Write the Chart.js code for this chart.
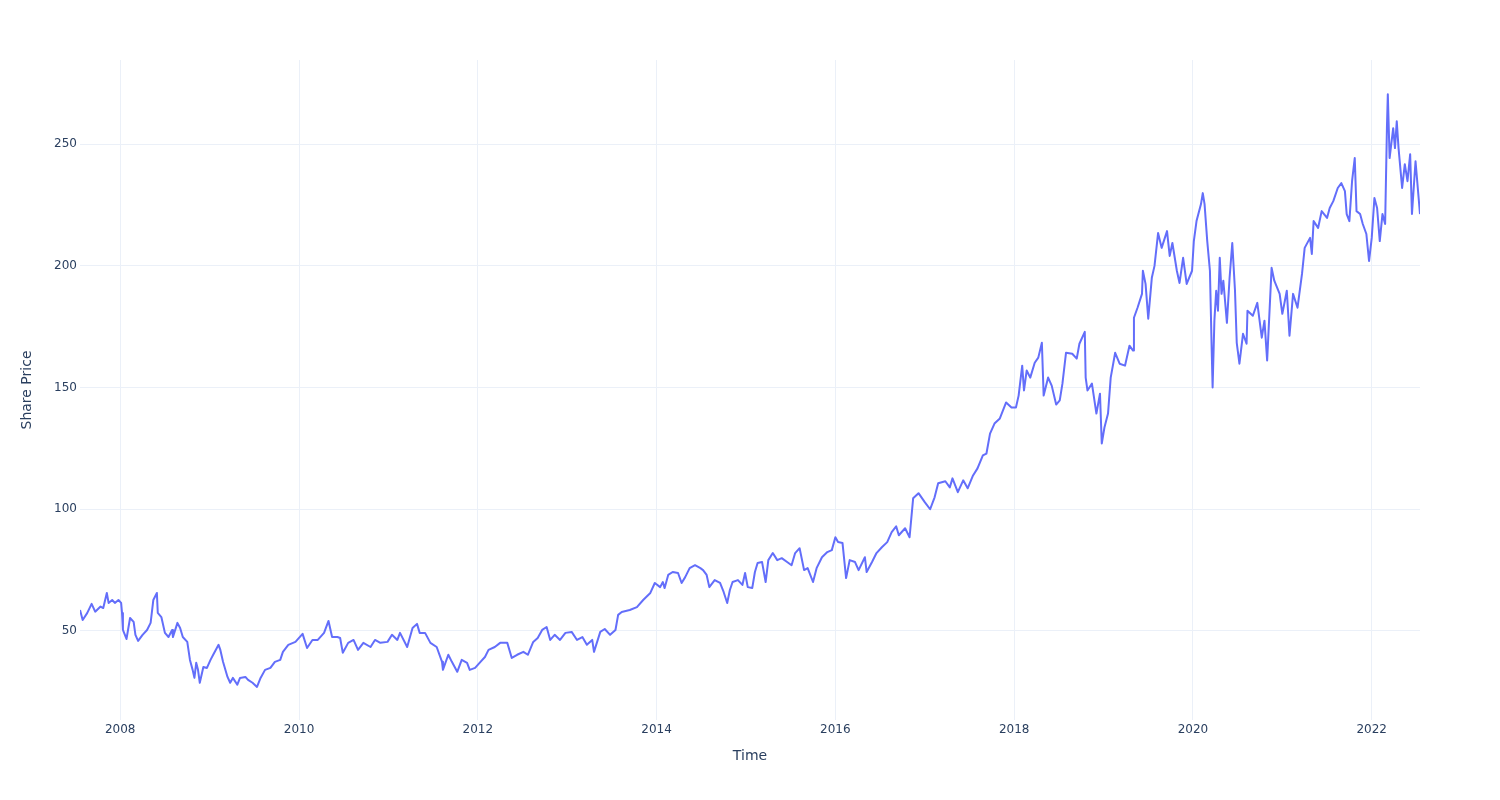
<!DOCTYPE html>
<html lang="en">
<head>
<meta charset="utf-8">
<title>Share Price</title>
<script src="https://cdn.jsdelivr.net/npm/chart.js@4.4.0/dist/chart.umd.min.js"></script>
<style>
    html, body { margin: 0; padding: 0; background: #ffffff; }
    #grafico { display: block; }
</style>
</head>
<body>
<canvas id="grafico" width="1500" height="800"></canvas>
<script>
// Datas (em anos decimais)
const datas = [
    2007.55, 2007.58, 2007.63, 2007.68, 2007.72, 2007.78, 2007.81, 2007.85, 2007.87, 2007.91, 2007.94, 2007.98,
    2008.01, 2008.02, 2008.03, 2008.07, 2008.11, 2008.15, 2008.17, 2008.20, 2008.25, 2008.30, 2008.34, 2008.37, 2008.41, 2008.42, 2008.46, 2008.50, 2008.54, 2008.58, 2008.59, 2008.64, 2008.67, 2008.70, 2008.75, 2008.78, 2008.81, 2008.83, 2008.85, 2008.87, 2008.89, 2008.93, 2008.97,
    2009.01, 2009.04, 2009.10, 2009.12, 2009.15, 2009.20, 2009.23, 2009.26, 2009.31, 2009.34, 2009.40, 2009.43, 2009.48, 2009.53, 2009.57, 2009.62, 2009.68, 2009.73, 2009.79, 2009.82, 2009.88, 2009.96,
    2010.04, 2010.09, 2010.15, 2010.21, 2010.28, 2010.33, 2010.37, 2010.43, 2010.46, 2010.49, 2010.55, 2010.61, 2010.66, 2010.72, 2010.80, 2010.85, 2010.91, 2010.99,
    2011.04, 2011.10, 2011.13, 2011.21, 2011.27, 2011.32, 2011.35, 2011.41, 2011.47, 2011.54, 2011.60, 2011.61, 2011.67, 2011.71, 2011.77, 2011.82, 2011.88, 2011.91, 2011.97,
    2012.03, 2012.08, 2012.12, 2012.19, 2012.25, 2012.33, 2012.38, 2012.44, 2012.51, 2012.56, 2012.62, 2012.67, 2012.72, 2012.77, 2012.81, 2012.86, 2012.92, 2012.98,
    2013.05, 2013.11, 2013.17, 2013.22, 2013.28, 2013.30, 2013.37, 2013.42, 2013.48, 2013.54, 2013.57, 2013.61, 2013.70, 2013.78, 2013.85, 2013.93, 2013.98,
    2014.04, 2014.07, 2014.09, 2014.13, 2014.18, 2014.24, 2014.28, 2014.32, 2014.37, 2014.43, 2014.49, 2014.52, 2014.56, 2014.59, 2014.65, 2014.71, 2014.75, 2014.79, 2014.82, 2014.85, 2014.91, 2014.96, 2014.99,
    2015.02, 2015.07, 2015.10, 2015.13, 2015.18, 2015.22, 2015.25, 2015.30, 2015.35, 2015.40, 2015.46, 2015.51, 2015.55, 2015.60, 2015.65, 2015.69, 2015.75, 2015.79, 2015.85, 2015.91, 2015.96,
    2016.00, 2016.03, 2016.08, 2016.12, 2016.16, 2016.22, 2016.26, 2016.33, 2016.35, 2016.41, 2016.46, 2016.52, 2016.58, 2016.63, 2016.68, 2016.71, 2016.78, 2016.83, 2016.87, 2016.93,
    2017.00, 2017.06, 2017.11, 2017.15, 2017.23, 2017.28, 2017.31, 2017.37, 2017.43, 2017.48, 2017.54, 2017.59, 2017.65, 2017.69, 2017.73, 2017.78, 2017.84, 2017.91, 2017.97,
    2018.02, 2018.05, 2018.09, 2018.11, 2018.14, 2018.18, 2018.23, 2018.27, 2018.31, 2018.33, 2018.38, 2018.42, 2018.47, 2018.51, 2018.54, 2018.58, 2018.65, 2018.70, 2018.73, 2018.79, 2018.80, 2018.82, 2018.87, 2018.92, 2018.96, 2018.98,
    2019.01, 2019.05, 2019.08, 2019.13, 2019.18, 2019.24, 2019.29, 2019.33, 2019.34, 2019.38, 2019.43, 2019.44, 2019.47, 2019.50, 2019.54, 2019.57, 2019.61, 2019.65, 2019.71, 2019.74, 2019.77, 2019.82, 2019.85, 2019.89, 2019.93, 2019.99,
    2020.01, 2020.04, 2020.09, 2020.11, 2020.13, 2020.16, 2020.19, 2020.21, 2020.22, 2020.24, 2020.26, 2020.28, 2020.30, 2020.32, 2020.34, 2020.38, 2020.41, 2020.44, 2020.47, 2020.49, 2020.52, 2020.56, 2020.60, 2020.61, 2020.67, 2020.72, 2020.77, 2020.80, 2020.83, 2020.88, 2020.91, 2020.97,
    2021.00, 2021.05, 2021.08, 2021.12, 2021.17, 2021.22, 2021.25, 2021.31, 2021.33, 2021.35, 2021.40, 2021.44, 2021.50, 2021.53, 2021.57, 2021.62, 2021.66, 2021.70, 2021.72, 2021.75, 2021.78, 2021.81, 2021.83, 2021.87, 2021.90, 2021.94, 2021.97,
    2022.00, 2022.03, 2022.06, 2022.09, 2022.12, 2022.15, 2022.17, 2022.18, 2022.20, 2022.24, 2022.26, 2022.28, 2022.30, 2022.34, 2022.37, 2022.40, 2022.43, 2022.45, 2022.49, 2022.54
];

// Preço da ação em cada data
const precos = [
    58.6, 54.5, 57.3, 61.1, 57.9, 60.0, 59.4, 65.6, 61.5, 62.7, 61.5, 62.7,
    61.5, 57.4, 50.4, 46.7, 55.3, 53.7, 48.4, 45.9, 48.4, 50.4, 53.3, 62.7, 65.6, 57.4, 55.7, 49.2, 47.5, 50.4, 47.5, 53.3, 51.2, 47.5, 45.5, 38.1, 34.0, 30.7, 36.9, 34.0, 28.7, 35.2, 34.8,
    38.1, 40.2, 44.3, 42.2, 37.3, 31.1, 28.7, 30.7, 27.9, 30.7, 31.1, 29.9, 28.7, 27.0, 30.7, 34.0, 34.8, 37.3, 38.1, 41.4, 44.3, 45.5,
    48.8, 43.0, 46.3, 46.3, 49.2, 54.1, 47.5, 47.5, 47.1, 41.0, 45.1, 46.3, 42.2, 45.1, 43.4, 46.3, 45.1, 45.5,
    48.4, 46.3, 49.2, 43.4, 51.2, 52.9, 49.2, 49.2, 45.1, 43.4, 37.3, 34.0, 40.2, 37.3, 33.2, 38.1, 36.9, 34.0, 34.8,
    37.3, 39.3, 42.2, 43.4, 45.1, 45.1, 38.9, 40.2, 41.4, 40.2, 45.5, 47.1, 50.4, 51.6, 46.3, 48.4, 46.3, 49.2,
    49.6, 46.3, 47.5, 44.3, 46.3, 41.4, 49.6, 50.8, 48.4, 50.4, 56.6, 57.8, 58.6, 59.8, 62.7, 65.6, 69.7,
    68.0, 70.1, 67.6, 73.0, 74.2, 73.8, 69.7, 72.1, 75.8, 77.0, 75.8, 75.0, 73.0, 68.0, 70.9, 69.7, 66.0, 61.5, 66.8, 70.1, 70.9, 68.9, 73.8,
    68.0, 67.6, 74.2, 77.9, 78.3, 70.1, 79.1, 82.0, 79.1, 79.9, 78.3, 77.0, 82.0, 84.0, 75.0, 75.8, 70.1, 75.8, 80.3, 82.4, 83.2,
    88.5, 86.5, 86.1, 71.7, 79.1, 78.3, 75.0, 80.3, 74.2, 78.3, 82.0, 84.4, 86.5, 90.6, 93.0, 89.3, 92.2, 88.5, 104.5, 106.6,
    102.9, 100.0, 104.9, 110.7, 111.5, 109.0, 112.7, 107.0, 111.9, 108.6, 113.9, 116.8, 122.1, 122.9, 131.1, 135.2, 137.3, 143.9, 141.8,
    141.8, 146.7, 159.0, 148.8, 157.0, 154.1, 160.2, 162.3, 168.4, 146.7, 154.1, 150.8, 143.0, 144.7, 151.6, 164.3, 163.9, 161.9, 168.0, 172.9, 154.1, 148.8, 151.6, 139.3, 147.5, 127.0,
    133.6, 139.3, 154.1, 164.3, 159.8, 159.0, 167.2, 165.2, 178.7, 182.8, 188.5, 198.0, 192.6, 178.3, 195.1, 200.0, 213.5, 207.4, 214.3, 204.1, 209.4, 198.0, 193.0, 203.3, 192.6, 198.0,
    210.2, 218.4, 225.4, 229.9, 225.4, 210.2, 198.0, 165.2, 150.0, 177.5, 189.8, 181.6, 203.3, 188.5, 193.9, 176.6, 195.1, 209.4, 190.2, 168.4, 159.8, 172.1, 168.0, 181.6, 179.5, 184.8, 170.5, 177.5, 161.1, 199.2, 193.9, 188.5,
    180.3, 189.8, 171.3, 188.5, 182.8, 196.7, 207.4, 211.5, 204.9, 218.4, 215.6, 222.5, 219.7, 223.8, 226.6, 232.0, 234.0, 230.7, 221.3, 218.4, 234.8, 244.3, 222.5, 221.3, 217.2, 213.1, 202.0,
    211.5, 227.9, 223.8, 210.2, 221.3, 217.2, 256.6, 270.5, 244.3, 256.6, 248.4, 259.4, 248.4, 232.0, 241.8, 234.8, 245.9, 221.3, 243.0, 221.3
];

// Marcas dos eixos
const ticksX = [2008, 2010, 2012, 2014, 2016, 2018, 2020, 2022];
const ticksY = [50, 100, 150, 200, 250];

const tituloX = 'Time';
const tituloY = 'Share Price';

// Estilo parecido com o plotly
const corTexto = '#2a3f5f';
const corGrade = '#ebf0f8';
const corLinha = '#636efa';
const fonte = '"DejaVu Sans", verdana, arial, sans-serif';

const pontos = datas.map((d, i) => ({ x: d, y: precos[i] }));

const ctx = document.getElementById('grafico').getContext('2d');

new Chart(ctx, {
    type: 'line',
    data: {
        datasets: [{
            data: pontos,
            borderColor: corLinha,
            borderWidth: 2,
            borderJoinStyle: 'round',
            pointRadius: 0,
            tension: 0,
            fill: false
        }]
    },
    options: {
        responsive: false,
        animation: false,
        layout: {
            padding: { left: 0, right: 80, top: 60, bottom: 0 }
        },
        plugins: {
            legend: { display: false },
            tooltip: { enabled: false }
        },
        scales: {
            x: {
                type: 'linear',
                min: datas[0],
                max: datas[datas.length - 1],
                afterBuildTicks: (eixo) => {
                    eixo.ticks = ticksX.map(v => ({ value: v }));
                },
                afterFit: (eixo) => {
                    eixo.height = 80;
                },
                grid: { color: corGrade, lineWidth: 1, drawTicks: false },
                border: { display: false },
                ticks: {
                    color: corTexto,
                    font: { family: fonte, size: 12 },
                    padding: 3,
                    maxRotation: 0,
                    callback: (valor) => String(valor)
                },
                title: {
                    display: true,
                    text: tituloX,
                    color: corTexto,
                    font: { family: fonte, size: 14 },
                    padding: { top: 0, bottom: 35 }
                }
            },
            y: {
                type: 'linear',
                min: 13.4,
                max: 284.6,
                afterBuildTicks: (eixo) => {
                    eixo.ticks = ticksY.map(v => ({ value: v }));
                },
                afterFit: (eixo) => {
                    eixo.width = 80;
                },
                grid: { color: corGrade, lineWidth: 1, drawTicks: false },
                border: { display: false },
                ticks: {
                    color: corTexto,
                    font: { family: fonte, size: 12 },
                    padding: 3,
                    callback: (valor) => String(valor)
                },
                title: {
                    display: true,
                    text: tituloY,
                    color: corTexto,
                    font: { family: fonte, size: 14 },
                    padding: { top: 19, bottom: 0 }
                }
            }
        }
    }
});
</script>
</body>
</html>
